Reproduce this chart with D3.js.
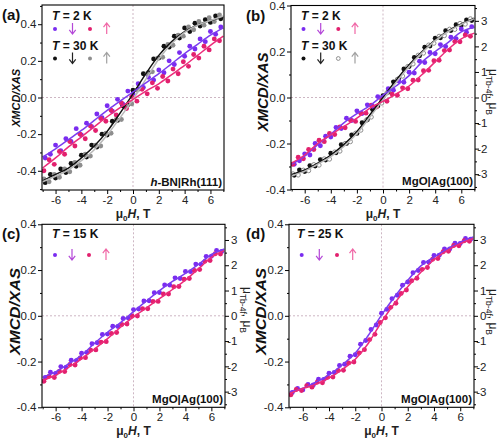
<!DOCTYPE html>
<html><head><meta charset="utf-8">
<script src="https://cdn.jsdelivr.net/npm/d3@7"></script>
<style>body{margin:0;background:#fff}svg{display:block;font-family:"Liberation Sans",Arial,sans-serif}</style>
</head><body><svg id="c" width="502" height="439"></svg>
<script>
// ---------- data ----------
const HA = [-6.8,-6.4,-6.0,-5.6,-5.2,-4.8,-4.4,-4.0,-3.6,-3.2,-2.8,-2.4,-2.0,-1.6,-1.2,-0.8,-0.4,0,0.4,0.8,1.2,1.6,2.0,2.4,2.8,3.2,3.6,4.0,4.4,4.8,5.2,5.6,6.0,6.4,6.8];
const HB = [-6.9,-6.5,-6.1,-5.7,-5.3,-4.9,-4.5,-4.1,-3.7,-3.3,-2.9,-2.5,-2.1,-1.7,-1.3,-0.9,-0.5,-0.1,0.3,0.7,1.1,1.5,1.9,2.3,2.7,3.1,3.5,3.9,4.3,4.7,5.1,5.5,5.9,6.3,6.7];
const fitH = [-7,-6,-5,-4,-3,-2,-1,0,1,2,3,4,5,6,7];

// (a) h-BN|Rh(111)
const a2Down  = [-0.33,-0.31,-0.26,-0.29,-0.225,-0.24,-0.17,-0.205,-0.14,-0.16,-0.09,-0.11,-0.045,-0.075,-0.01,-0.035,0.035,0.02,0.075,0.055,0.11,0.095,0.15,0.135,0.2,0.18,0.245,0.225,0.28,0.265,0.32,0.305,0.36,0.345,0.385];
const a2Up    = [-0.4,-0.34,-0.365,-0.295,-0.31,-0.24,-0.265,-0.2,-0.225,-0.155,-0.18,-0.115,-0.13,-0.07,-0.095,-0.03,-0.06,0.005,-0.02,0.045,0.02,0.08,0.05,0.115,0.09,0.155,0.13,0.195,0.17,0.235,0.215,0.28,0.26,0.32,0.31];
const a30Down = [-0.465,-0.42,-0.44,-0.39,-0.41,-0.36,-0.375,-0.315,-0.325,-0.26,-0.27,-0.2,-0.205,-0.13,-0.125,-0.045,-0.04,0.04,0.045,0.13,0.135,0.21,0.215,0.28,0.275,0.335,0.325,0.38,0.36,0.405,0.39,0.425,0.41,0.445,0.43];
const a30Up   = [-0.445,-0.46,-0.42,-0.435,-0.39,-0.405,-0.355,-0.37,-0.31,-0.32,-0.26,-0.265,-0.195,-0.195,-0.12,-0.12,-0.045,-0.035,0.04,0.05,0.13,0.14,0.215,0.22,0.29,0.285,0.34,0.335,0.385,0.37,0.415,0.395,0.435,0.415,0.45];
const a2DownFit  = [-0.325,-0.28,-0.23,-0.18,-0.125,-0.07,-0.02,0.03,0.08,0.13,0.185,0.24,0.29,0.34,0.38];
const a2UpFit    = [-0.385,-0.33,-0.27,-0.215,-0.16,-0.105,-0.055,-0.01,0.035,0.075,0.125,0.175,0.23,0.285,0.335];
const a30DownFit = [-0.455,-0.42,-0.385,-0.33,-0.265,-0.185,-0.085,0.02,0.13,0.23,0.305,0.36,0.395,0.42,0.44];
const a30UpFit   = [-0.46,-0.43,-0.395,-0.345,-0.285,-0.205,-0.11,-0.01,0.1,0.21,0.295,0.355,0.395,0.42,0.445];

// (b) MgO|Ag(100), 2 K and 30 K
const b2Down  = [-0.29,-0.275,-0.245,-0.25,-0.2,-0.21,-0.168,-0.172,-0.13,-0.135,-0.09,-0.1,-0.058,-0.07,-0.032,-0.038,0.004,0.0,0.038,0.032,0.072,0.066,0.11,0.106,0.158,0.152,0.196,0.19,0.23,0.222,0.262,0.256,0.298,0.284,0.308];
const b2Up    = [-0.29,-0.26,-0.266,-0.226,-0.226,-0.186,-0.192,-0.156,-0.161,-0.128,-0.132,-0.098,-0.104,-0.068,-0.068,-0.034,-0.04,-0.01,-0.016,0.014,0.01,0.042,0.038,0.075,0.076,0.116,0.118,0.16,0.162,0.204,0.206,0.243,0.242,0.272,0.266];
const b30Down = [-0.338,-0.315,-0.322,-0.296,-0.298,-0.27,-0.272,-0.242,-0.24,-0.205,-0.2,-0.163,-0.156,-0.11,-0.097,-0.052,-0.037,0.008,0.024,0.068,0.081,0.124,0.135,0.174,0.181,0.219,0.224,0.258,0.26,0.29,0.291,0.316,0.314,0.337,0.335];
const b30Up   = [-0.332,-0.337,-0.316,-0.318,-0.292,-0.294,-0.267,-0.268,-0.237,-0.233,-0.2,-0.192,-0.155,-0.142,-0.1,-0.085,-0.041,-0.024,0.02,0.037,0.079,0.093,0.135,0.146,0.184,0.193,0.228,0.236,0.266,0.269,0.297,0.296,0.322,0.319,0.342];
const b2DownFit  = [-0.29,-0.255,-0.205,-0.16,-0.11,-0.07,-0.035,0.01,0.05,0.095,0.155,0.2,0.24,0.285,0.305];
const b2UpFit    = [-0.285,-0.25,-0.2,-0.162,-0.126,-0.09,-0.046,-0.017,0.015,0.05,0.1,0.155,0.21,0.255,0.28];
const b30DownFit = [-0.335,-0.315,-0.285,-0.25,-0.205,-0.148,-0.075,0.0,0.075,0.142,0.2,0.25,0.29,0.32,0.345];
const b30UpFit   = [-0.34,-0.32,-0.29,-0.257,-0.213,-0.157,-0.085,-0.01,0.065,0.135,0.195,0.247,0.287,0.318,0.343];

// (c) MgO|Ag(100), 15 K
const c15Down = [-0.27,-0.247,-0.252,-0.222,-0.226,-0.194,-0.196,-0.164,-0.16,-0.122,-0.118,-0.082,-0.08,-0.046,-0.047,-0.012,-0.01,0.027,0.03,0.065,0.066,0.101,0.102,0.135,0.134,0.166,0.163,0.194,0.193,0.226,0.225,0.26,0.26,0.286,0.281];
const c15Up   = [-0.286,-0.264,-0.27,-0.242,-0.244,-0.213,-0.215,-0.184,-0.183,-0.15,-0.149,-0.115,-0.113,-0.077,-0.073,-0.038,-0.036,-0.001,-0.001,0.031,0.031,0.063,0.063,0.095,0.095,0.127,0.128,0.16,0.163,0.198,0.202,0.238,0.242,0.271,0.27];
const c15DownFit = [-0.268,-0.245,-0.21,-0.172,-0.12,-0.072,-0.03,0.018,0.065,0.11,0.15,0.185,0.225,0.268,0.292];
const c15UpFit   = [-0.282,-0.26,-0.225,-0.188,-0.145,-0.1,-0.05,-0.005,0.035,0.075,0.115,0.156,0.205,0.255,0.285];

// (d) MgO|Ag(100), 25 K
const d25Down = [-0.335,-0.318,-0.324,-0.3,-0.302,-0.277,-0.278,-0.251,-0.248,-0.217,-0.212,-0.177,-0.17,-0.124,-0.108,-0.06,-0.04,0.011,0.028,0.075,0.09,0.134,0.148,0.188,0.198,0.233,0.234,0.264,0.265,0.292,0.292,0.317,0.316,0.338,0.335];
const d25Up   = [-0.345,-0.322,-0.327,-0.306,-0.312,-0.29,-0.293,-0.269,-0.268,-0.239,-0.238,-0.206,-0.202,-0.162,-0.148,-0.104,-0.081,-0.029,-0.009,0.037,0.055,0.098,0.113,0.153,0.164,0.203,0.211,0.247,0.25,0.28,0.282,0.307,0.306,0.328,0.326];
const d25DownFit = [-0.333,-0.318,-0.29,-0.258,-0.215,-0.163,-0.085,0.003,0.083,0.155,0.218,0.257,0.292,0.322,0.345];
const d25UpFit   = [-0.34,-0.318,-0.3,-0.272,-0.235,-0.19,-0.12,-0.027,0.055,0.127,0.19,0.245,0.285,0.315,0.338];

const xTicks = [-6,-4,-2,0,2,4,6];
const xMinor = [-7,-5,-3,-1,1,3,5,7];
const yTicks = [-0.4,-0.2,0,0.2,0.4];
const yMinorA = [-0.5,-0.3,-0.1,0.1,0.3,0.5];
const yMinor = [-0.3,-0.1,0.1,0.3];
const rTicks = [-3,-2,-1,0,1,2,3];
const rMinor = [-3.5,-2.5,-1.5,-0.5,0.5,1.5,2.5,3.5];
const panelLetters = ["(a)","(b)","(c)","(d)"];
const substrates = ["h-BN|Rh(111)","MgO|Ag(100)","MgO|Ag(100)","MgO|Ag(100)"];
const tempLabels = [["2","30"],["2","30"],["15"],["25"]];

// ---------- styles ----------
const PURPLE="#7a2cf0", PINK="#e2206e", BLACK="#111", GRAY="#8e8e8e";
const PURPLE_L="#7b3cf0", PINK_L="#ec2c7a", GRAY_L="#b8b8b8";
const ARROW_P="#b448d8", ARROW_K="#f067a6";

const svg = d3.select("#c");

const panels = [
 {x0:42,x1:224,y0:5,y1:190,yDom:[-0.505,0.505],yMin:yMinorA,right:null,
  ylab:{x:20,y:98,len:58,fs:11}, letter:{x:2,y:20}, legX:52, legY:20, dotsX:[55,72.5,90,106.7],
  series:[
   {h:HA,v:a30Down,fit:a30DownFit,col:BLACK,lc:BLACK,hollow:false},
   {h:HB,v:a30Up,fit:a30UpFit,col:GRAY,lc:GRAY_L,hollow:false},
   {h:HA,v:a2Down,fit:a2DownFit,col:PURPLE,lc:PURPLE_L,hollow:false},
   {h:HB,v:a2Up,fit:a2UpFit,col:PINK,lc:PINK_L,hollow:false}],
  legend:[[PURPLE,ARROW_P,PINK,ARROW_K,false],[BLACK,"#222",GRAY,"#a0a0a0",false]]},
 {x0:291,x1:475,y0:5.5,y1:189.5,yDom:[-0.4,0.4],yMin:yMinor,right:[-3.6,3.6],
  ylab:{x:268,y:92,len:79,fs:14}, letter:{x:246,y:21}, legX:301, legY:20, dotsX:[303.5,320.7,338.3,355],
  rlab:{x:489,y:92},
  series:[
   {h:HA,v:b30Down,fit:b30DownFit,col:BLACK,lc:BLACK,hollow:false},
   {h:HB,v:b30Up,fit:b30UpFit,col:GRAY,lc:GRAY_L,hollow:true},
   {h:HA,v:b2Down,fit:b2DownFit,col:PURPLE,lc:PURPLE_L,hollow:false},
   {h:HB,v:b2Up,fit:b2UpFit,col:PINK,lc:PINK_L,hollow:false}],
  legend:[[PURPLE,ARROW_P,PINK,ARROW_K,false],[BLACK,"#222",GRAY,"#a0a0a0",true]]},
 {x0:42,x1:225,y0:224.3,y1:407.3,yDom:[-0.4,0.4],yMin:yMinor,right:[-3.62,3.62],
  ylab:{x:20,y:311.5,len:87,fs:14}, letter:{x:2,y:239}, legX:52, legY:238, dotsX:[55,72,89,106],
  rlab:{x:243,y:310},
  series:[
   {h:HA,v:c15Down,fit:c15DownFit,col:PURPLE,lc:PURPLE_L,hollow:false},
   {h:HB,v:c15Up,fit:c15UpFit,col:PINK,lc:PINK_L,hollow:false}],
  legend:[[PURPLE,ARROW_P,PINK,ARROW_K,false]]},
 {x0:289,x1:474,y0:224.3,y1:407.3,yDom:[-0.4,0.4],yMin:yMinor,right:[-3.62,3.62],
  ylab:{x:266,y:311.5,len:87,fs:14}, letter:{x:246,y:239}, legX:297, legY:238, dotsX:[301.7,319.3,337,352.7],
  rlab:{x:489,y:312},
  series:[
   {h:HA,v:d25Down,fit:d25DownFit,col:PURPLE,lc:PURPLE_L,hollow:false},
   {h:HB,v:d25Up,fit:d25UpFit,col:PINK,lc:PINK_L,hollow:false}],
  legend:[[PURPLE,ARROW_P,PINK,ARROW_K,false]]}
];

const fmt = d => (Math.abs(d)<1e-9 ? "0.0" : d.toFixed(1));

function arrow(g, cx, cy, down, col){
  const top = cy-6, bot = cy+5;
  const p = down
    ? `M${cx},${top}L${cx},${bot}M${cx-3.2},${bot-4.2}L${cx},${bot}L${cx+3.2},${bot-4.2}`
    : `M${cx},${bot}L${cx},${top}M${cx-3.2},${top+4.2}L${cx},${top}L${cx+3.2},${top+4.2}`;
  g.append("path").attr("d",p).attr("fill","none").attr("stroke",col).attr("stroke-width",1.2);
}

panels.forEach((P,i)=>{
  const g = svg.append("g");
  const x = d3.scaleLinear().domain([-7.05,7.05]).range([P.x0,P.x1]);
  const y = d3.scaleLinear().domain(P.yDom).range([P.y1,P.y0]);

  const clipId = "clip"+i;
  g.append("clipPath").attr("id",clipId).append("rect")
    .attr("x",P.x0).attr("y",P.y0).attr("width",P.x1-P.x0).attr("height",P.y1-P.y0);

  // zero lines
  g.append("line").attr("x1",P.x0).attr("x2",P.x1).attr("y1",y(0)).attr("y2",y(0))
    .attr("stroke","#cdb6c3").attr("stroke-width",1).attr("stroke-dasharray","2,2");
  g.append("line").attr("x1",x(0)).attr("x2",x(0)).attr("y1",P.y0).attr("y2",P.y1)
    .attr("stroke","#cdb6c3").attr("stroke-width",1).attr("stroke-dasharray","2,2");

  const plot = g.append("g").attr("clip-path",`url(#${clipId})`);
  P.series.forEach(s=>{
    const pts = s.h.map((h,k)=>[h,s.v[k]]);
    plot.append("g").selectAll("circle").data(pts).join("circle")
      .attr("cx",d=>x(d[0])).attr("cy",d=>y(d[1])).attr("r",s.hollow?2.1:2.45)
      .attr("fill",s.hollow?"#fff":s.col).attr("stroke",s.hollow?s.col:"none").attr("stroke-width",1);
  });
  const line = d3.line().x(d=>x(d[0])).y(d=>y(d[1])).curve(d3.curveMonotoneX);
  P.series.forEach(s=>{
    plot.append("path").datum(fitH.map((h,k)=>[h,s.fit[k]])).attr("d",line)
      .attr("fill","none").attr("stroke",s.lc).attr("stroke-width",1.5);
  });

  // axes
  const styleAxis = ax => { ax.select(".domain").remove(); ax.selectAll("line").attr("stroke","#000");
    ax.selectAll("text").attr("font-family","Liberation Sans, Arial, sans-serif").attr("font-size","11.5px").attr("fill","#222"); };
  const bx = g.append("g").attr("transform",`translate(0,${P.y1})`)
    .call(d3.axisBottom(x).tickValues(xTicks).tickSize(4).tickPadding(2).tickFormat(d=>String(d))); styleAxis(bx);
  const bxm = g.append("g").attr("transform",`translate(0,${P.y1})`)
    .call(d3.axisBottom(x).tickValues(xMinor).tickSize(2).tickFormat("")); styleAxis(bxm);
  const ly = g.append("g").attr("transform",`translate(${P.x0},0)`)
    .call(d3.axisLeft(y).tickValues(yTicks).tickSize(4).tickPadding(1.5).tickFormat(fmt)); styleAxis(ly);
  const lym = g.append("g").attr("transform",`translate(${P.x0},0)`)
    .call(d3.axisLeft(y).tickValues(P.yMin).tickSize(2).tickFormat("")); styleAxis(lym);
  if (P.right){
    const yr = d3.scaleLinear().domain(P.right).range([P.y1,P.y0]);
    const ry = g.append("g").attr("transform",`translate(${P.x1},0)`)
      .call(d3.axisRight(yr).tickValues(rTicks).tickSize(4).tickPadding(1).tickFormat(d=>String(d))); styleAxis(ry);
    ry.selectAll("text").attr("text-anchor","end").attr("x",12.5);
    const rym = g.append("g").attr("transform",`translate(${P.x1},0)`)
      .call(d3.axisRight(yr).tickValues(rMinor.filter(v=>Math.abs(v)<=P.right[1])).tickSize(2).tickFormat("")); styleAxis(rym);
    const rt = g.append("text").attr("transform",`translate(${P.rlab.x},${P.rlab.y}) rotate(90)`)
      .attr("text-anchor","middle").attr("font-size","12px").attr("fill","#222");
    rt.append("tspan").text("\u03bc");
    rt.append("tspan").attr("font-size","8.5px").attr("dy",3).text("Tb-4f");
    rt.append("tspan").attr("dy",-3).text(", \u03bc");
    rt.append("tspan").attr("font-size","8.5px").attr("dy",3).text("B");
  }
  // frame
  g.append("rect").attr("x",P.x0).attr("y",P.y0).attr("width",P.x1-P.x0).attr("height",P.y1-P.y0)
    .attr("fill","none").attr("stroke","#000").attr("stroke-width",1.1);

  // x title
  const xt = g.append("text").attr("x",(P.x0+P.x1)/2).attr("y",P.y1+28).attr("text-anchor","middle")
    .attr("font-size","12px").attr("font-weight","bold").attr("fill","#222");
  xt.append("tspan").text("\u03bc");
  xt.append("tspan").attr("font-size","8px").attr("dy",3).text("0");
  xt.append("tspan").attr("dy",-3).attr("font-style","italic").text("H");
  xt.append("tspan").text(", T");

  // y title
  g.append("text").attr("transform",`translate(${P.ylab.x},${P.ylab.y}) rotate(-90)`)
    .attr("text-anchor","middle").attr("font-size",P.ylab.fs+"px").attr("font-weight","bold")
    .attr("font-style","italic").attr("fill","#111")
    .attr("textLength",P.ylab.len).attr("lengthAdjust","spacingAndGlyphs").text("XMCD/XAS");

  // panel letter
  g.append("text").attr("x",P.letter.x).attr("y",P.letter.y).attr("font-size","15px")
    .attr("font-weight","bold").attr("fill","#111").text(panelLetters[i]);

  // substrate label
  const sub = substrates[i];
  const st = g.append("text").attr("x",P.x1-2).attr("y",P.y1-4.5).attr("text-anchor","end")
    .attr("font-size","11.5px").attr("font-weight","bold").attr("fill","#111");
  if (sub.startsWith("h-")) { st.append("tspan").attr("font-style","italic").text("h"); st.append("tspan").text(sub.slice(1)); }
  else st.text(sub);

  // legend
  tempLabels[i].forEach((tl,r)=>{
    const ty = P.legY + r*29.5;
    const t = g.append("text").attr("x",P.legX).attr("y",ty).attr("font-size","12px")
      .attr("font-weight","bold").attr("fill","#111");
    t.append("tspan").attr("font-style","italic").text("T");
    t.append("tspan").text(" = "+tl+" K");
    const cy = ty + (i>=2 ? 17 : 9);
    const L = P.legend[r];
    g.append("circle").attr("cx",P.dotsX[0]).attr("cy",cy).attr("r",2).attr("fill",L[0]);
    arrow(g,P.dotsX[1],cy,true,L[1]);
    if (L[4]) g.append("circle").attr("cx",P.dotsX[2]).attr("cy",cy).attr("r",1.9).attr("fill","#fff").attr("stroke",L[2]).attr("stroke-width",1);
    else g.append("circle").attr("cx",P.dotsX[2]).attr("cy",cy).attr("r",2).attr("fill",L[2]);
    arrow(g,P.dotsX[3],cy,false,L[3]);
  });
});
</script></body></html>
